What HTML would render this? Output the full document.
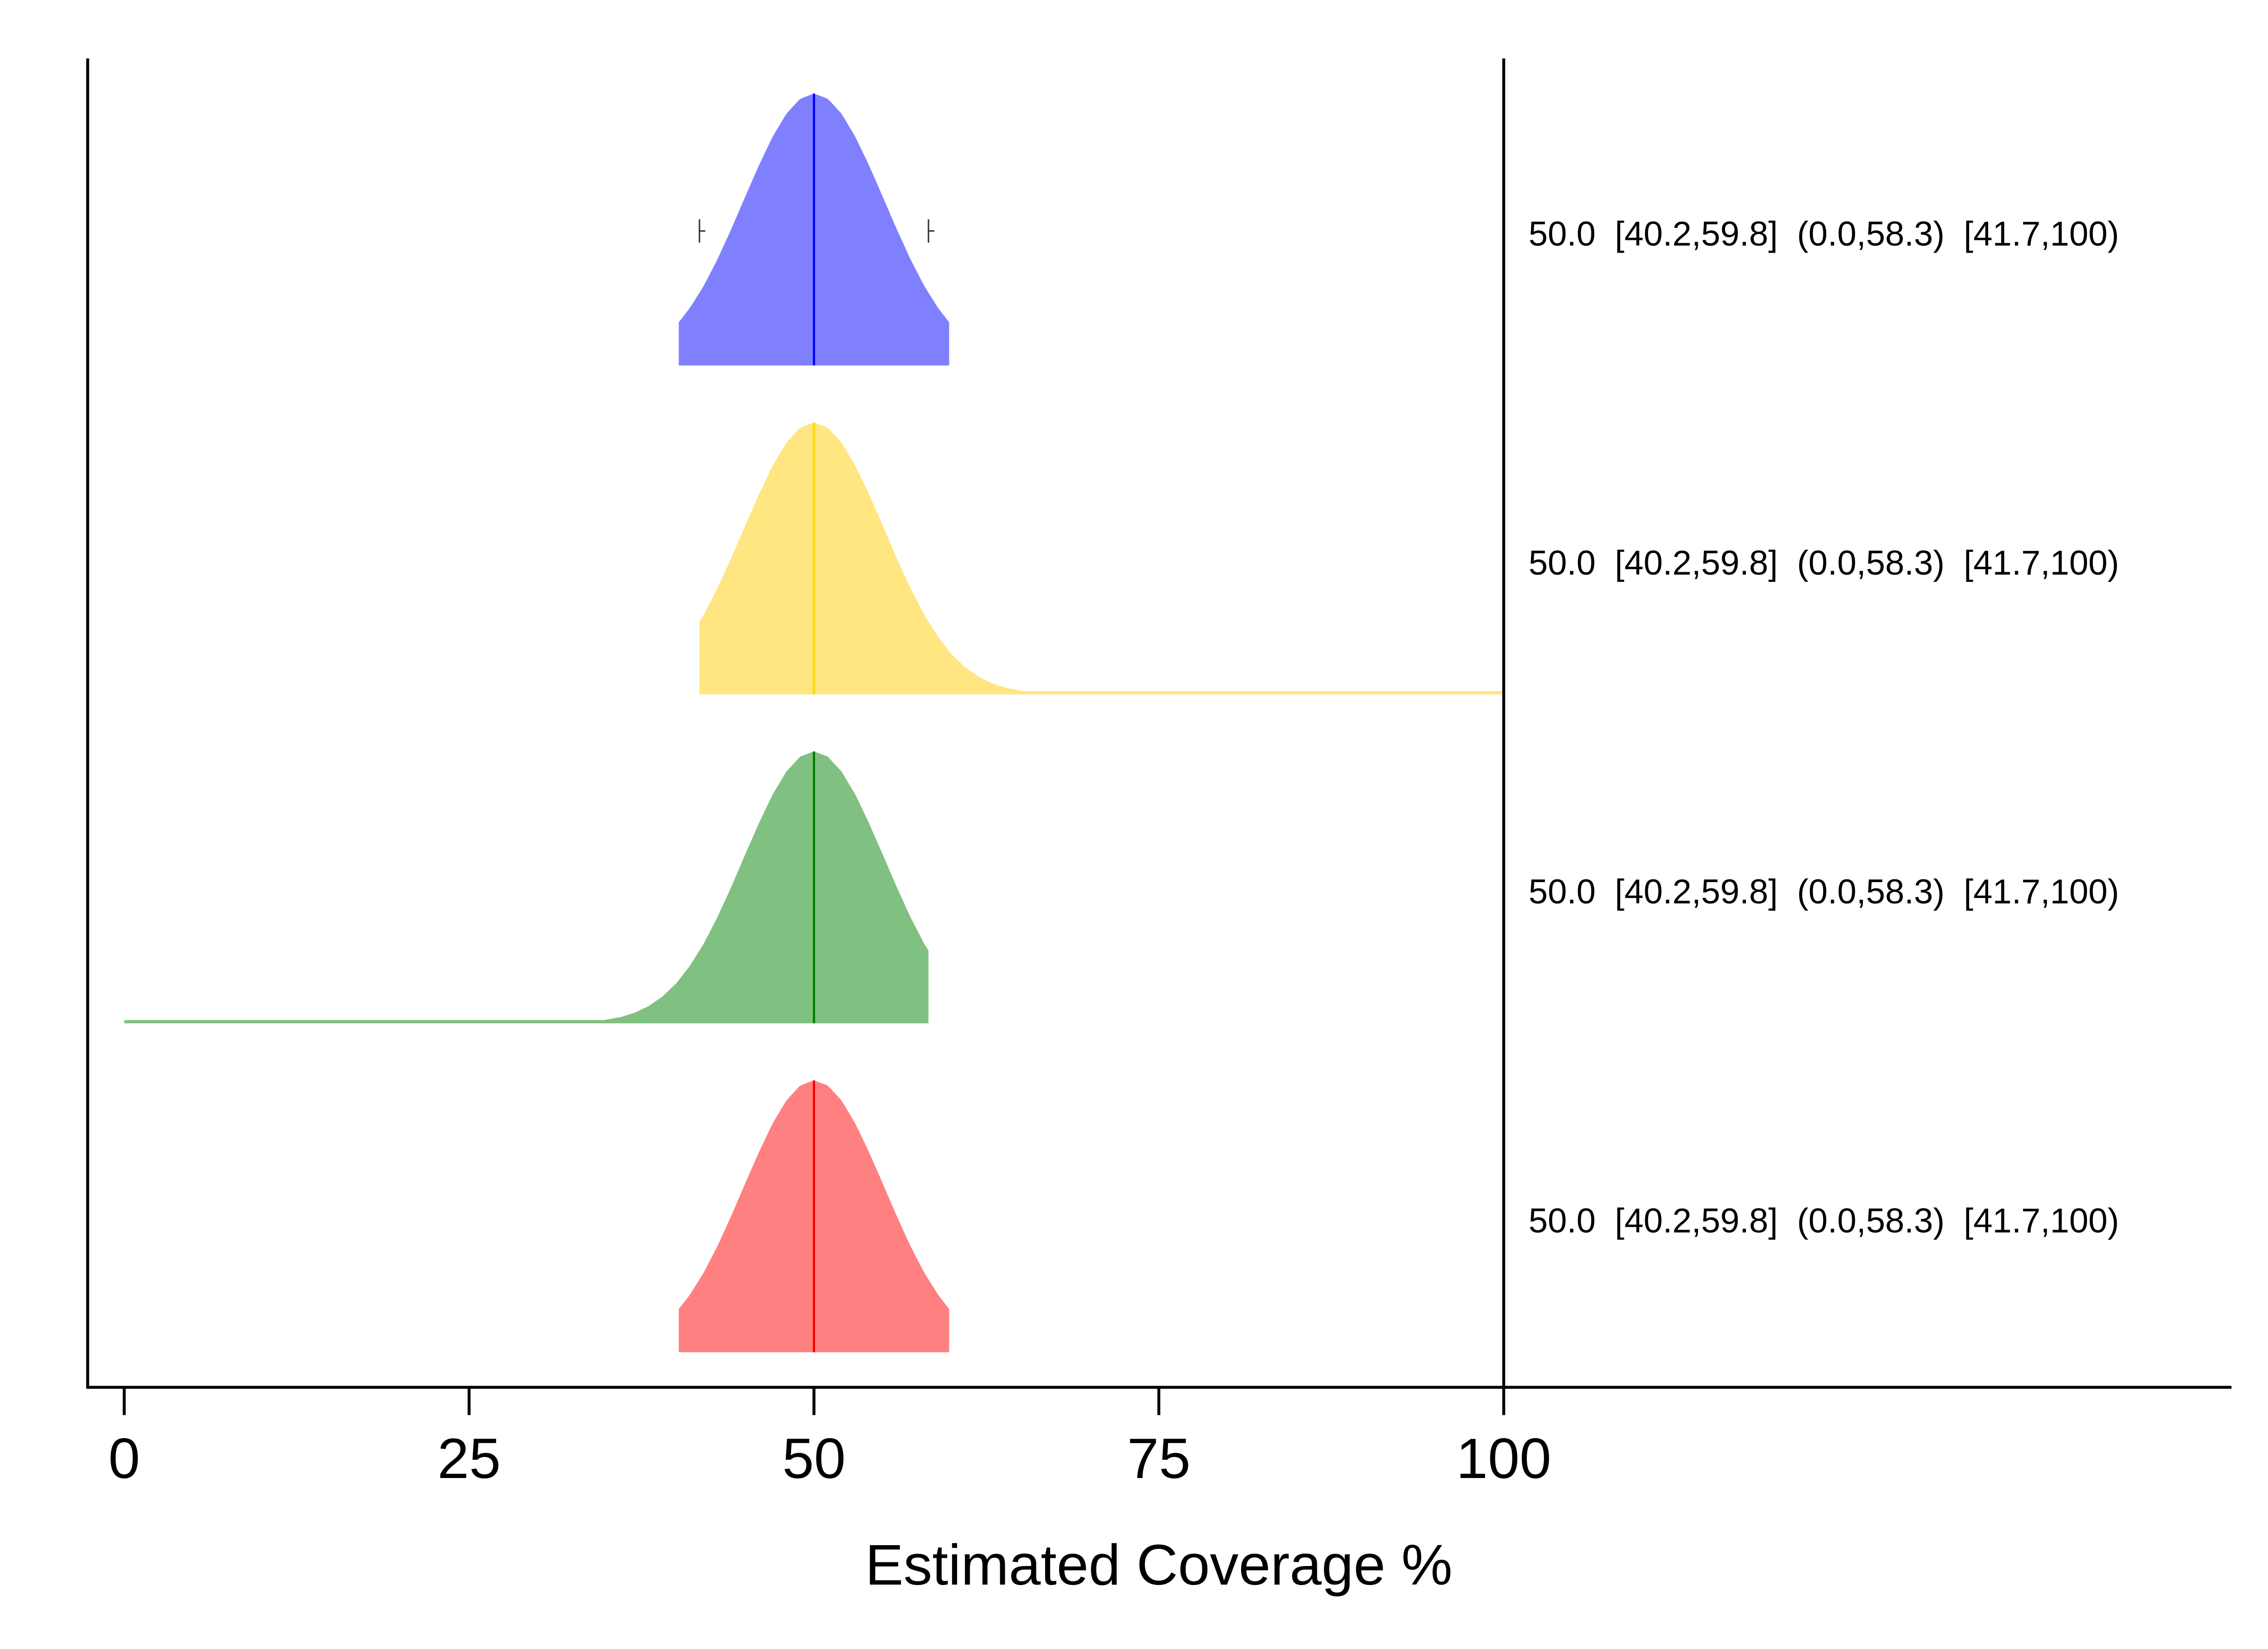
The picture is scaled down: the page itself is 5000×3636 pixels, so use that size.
<!DOCTYPE html>
<html><head><meta charset="utf-8"><style>
html,body{margin:0;padding:0;background:#fff;}
svg{display:block;}
text{font-family:"Liberation Sans",Arial,sans-serif;white-space:pre;}
</style></head><body>
<svg id="chart" width="5000" height="3636" viewBox="0 0 1552 1128" preserveAspectRatio="none" xmlns="http://www.w3.org/2000/svg">
<g id="marks"></g>
<line x1="60" y1="40" x2="60" y2="949" stroke="#000" stroke-width="2"/>
<line x1="59" y1="949" x2="1527" y2="949" stroke="#000" stroke-width="2"/>
<line x1="1029" y1="40" x2="1029" y2="949" stroke="#000" stroke-width="2"/>
<g id="ticks"></g>
<text x="793" y="1084" font-size="39.3" text-anchor="middle">Estimated Coverage %</text>
</svg>
<script>
const tickValues = [0, 25, 50, 75, 100];
const densityX = [35,36,37,38,39,40,41,42,43,44,45,46,47,48,49,50,51,52,53,54,55,56,57,58,59,60,61,62,63,64,65];
const densityY = [.014,.023,.039,.063,.098,.146,.211,.292,.390,.501,.619,.735,.841,.926,.981,1.0,.981,.926,.841,.735,.619,.501,.390,.292,.211,.146,.098,.063,.039,.023,.014];
const rowNames = ['blue','yellow','green','red'];
const rowLo = [40.2, 41.7, 0, 40.2];
const rowHi = [59.8, 100, 58.3, 59.8];
const rowMedian = [50, 50, 50, 50];
const rowLabels = [
 '50.0  [40.2,59.8]  (0.0,58.3)  [41.7,100)',
 '50.0  [40.2,59.8]  (0.0,58.3)  [41.7,100)',
 '50.0  [40.2,59.8]  (0.0,58.3)  [41.7,100)',
 '50.0  [40.2,59.8]  (0.0,58.3)  [41.7,100)'];
const fills = ['#8080ff','#ffe680','#80c080','#ff8080'];
const strokes = ['#0000ff','#ffd700','#008000','#ff0000'];
const tailFloor = 0.012;

const NS = 'http://www.w3.org/2000/svg';
const xs = v => 85 + v * 9.44;
const baseY = i => 250 + i * 225;
const hs = d => d * 186;
function dens(x){
  if (x < densityX[0] || x > densityX[densityX.length-1]) return tailFloor;
  for (let k=0;k<densityX.length-1;k++){
    if (x>=densityX[k] && x<=densityX[k+1]){
      const t=(x-densityX[k])/(densityX[k+1]-densityX[k]);
      return Math.max(tailFloor, densityY[k]+(densityY[k+1]-densityY[k])*t);
    }
  }
  return tailFloor;
}
const marks = document.getElementById('marks');
rowNames.forEach((nm,i)=>{
  const b = baseY(i);
  const pts = [];
  const lo=rowLo[i], hi=rowHi[i];
  pts.push([xs(lo), b]);
  const step = 0.25;
  for (let x=lo; x<hi; x+=step){
    pts.push([xs(x), b - hs(dens(x))]);
  }
  pts.push([xs(hi), b - hs(dens(hi))]);
  pts.push([xs(hi), b]);
  const p = document.createElementNS(NS,'path');
  p.setAttribute('d','M'+pts.map(q=>q[0].toFixed(2)+','+q[1].toFixed(2)).join('L')+'Z');
  p.setAttribute('fill',fills[i]);
  
  
  marks.appendChild(p);
  const m = document.createElementNS(NS,'line');
  const mx = xs(rowMedian[i]);
  m.setAttribute('x1',mx); m.setAttribute('x2',mx);
  m.setAttribute('y1',b - hs(dens(rowMedian[i]))); m.setAttribute('y2',b);
  m.setAttribute('stroke',strokes[i]); m.setAttribute('stroke-width','1.5');
  
  
  marks.appendChild(m);
  const t = document.createElementNS(NS,'text');
  t.setAttribute('x',1046); t.setAttribute('y', b - 82);
  t.setAttribute('font-size','23.6');
  t.textContent = rowLabels[i];
  
  
  marks.appendChild(t);
});
[41.7, 58.3].forEach(v=>{
  const g = document.createElementNS(NS,'path');
  const x = xs(v), y = 158;
  g.setAttribute('d',`M${x},${y-8}L${x},${y+8}M${x},${y}L${x+4},${y}`);
  g.setAttribute('stroke','#333'); g.setAttribute('stroke-width','1'); g.setAttribute('fill','none');
  
  
  marks.appendChild(g);
});
const ticks = document.getElementById('ticks');
tickValues.forEach(v=>{
  const l = document.createElementNS(NS,'line');
  l.setAttribute('x1',xs(v)); l.setAttribute('x2',xs(v));
  l.setAttribute('y1',949); l.setAttribute('y2',968);
  l.setAttribute('stroke','#000'); l.setAttribute('stroke-width','2');
  
  
  ticks.appendChild(l);
  const t = document.createElementNS(NS,'text');
  t.setAttribute('x',xs(v)); t.setAttribute('y',1011);
  t.setAttribute('font-size','39'); t.setAttribute('text-anchor','middle');
  t.textContent = String(v);
  
  
  ticks.appendChild(t);
});
</script>
</body></html>
